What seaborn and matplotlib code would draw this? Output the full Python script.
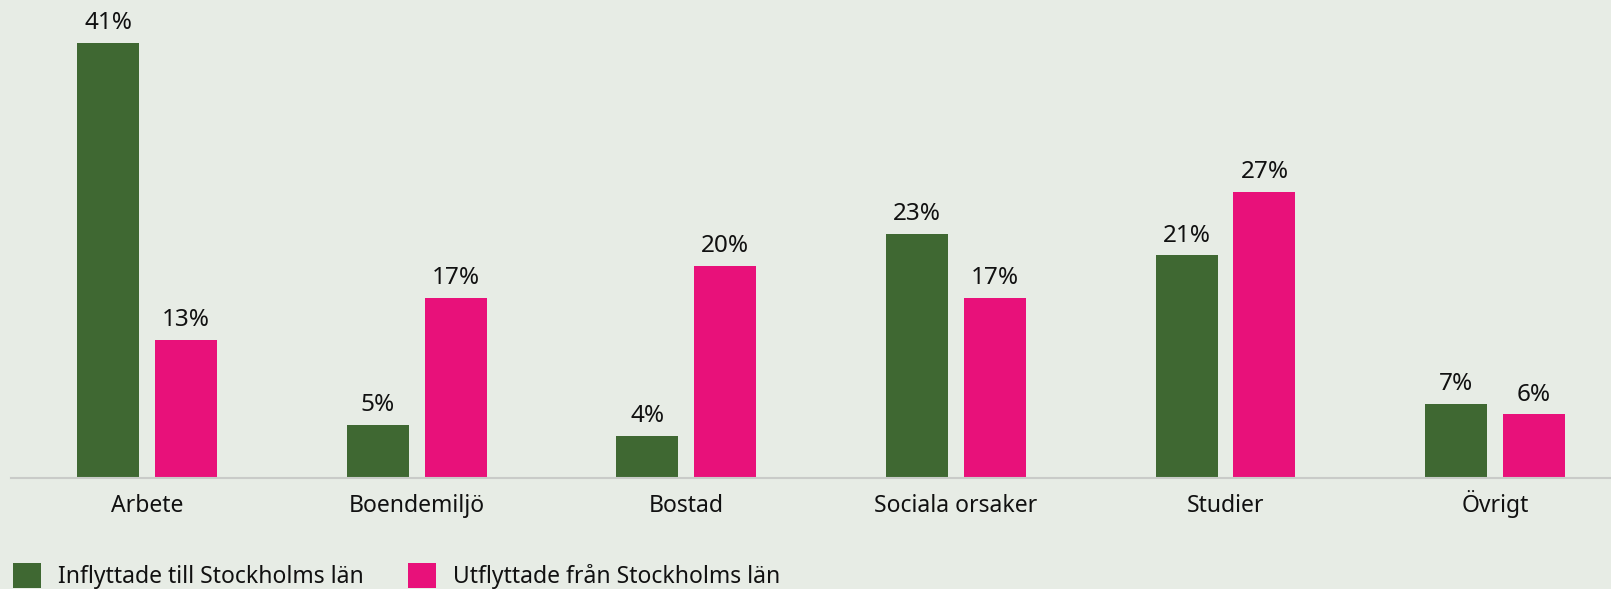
import matplotlib
matplotlib.use("Agg")
import matplotlib.pyplot as plt
from matplotlib.patches import Patch
import seaborn as sns
import pandas as pd

categories = ["Arbete", "Boendemiljö", "Bostad", "Sociala orsaker", "Studier", "Övrigt"]
series_names = ["Inflyttade till Stockholms län", "Utflyttade från Stockholms län"]
inflyttade = [41, 5, 4, 23, 21, 7]
utflyttade = [13, 17, 20, 17, 27, 6]
colors = ["#3f6832", "#e8117a"]
bg = "#e7ece5"

df = pd.DataFrame({
    "kategori": categories * 2,
    "serie": [series_names[0]] * len(categories) + [series_names[1]] * len(categories),
    "andel": inflyttade + utflyttade,
})

sns.set_theme(style="white")
plt.rcParams["font.family"] = ["Noto Sans", "DejaVu Sans"]

W, H = 1611, 589
fig = plt.figure(figsize=(W / 100, H / 100), dpi=100, facecolor=bg)
ax = fig.add_axes([11 / W, 1 - 478 / H, 1 - 11 / W, 478 / H])
ax.set_facecolor(bg)

sns.barplot(data=df, x="kategori", y="andel", hue="serie", order=categories,
            hue_order=series_names, palette=colors, saturation=1,
            width=0.578, gap=0.205, dodge=True, legend=False, ax=ax,
            edgecolor="none", linewidth=0)

for cont in ax.containers:
    ax.bar_label(cont, labels=[f"{int(v)}%" for v in cont.datavalues],
                 padding=5.5, fontsize=17.5, color="#111111")

ax.set_xlim(-0.505, 5.43)
ax.set_ylim(0, 45.05)
ax.set_xlabel("")
ax.set_ylabel("")
ax.set_yticks([])
ax.tick_params(axis="x", length=0, pad=24.5, labelsize=16.5, labelcolor="#111111")
for lbl in ax.get_xticklabels():
    lbl.set_verticalalignment("baseline")
for s in ["top", "right", "left"]:
    ax.spines[s].set_visible(False)
ax.spines["bottom"].set_color("#c9cbc8")
ax.spines["bottom"].set_linewidth(1.5)

fs = 16.5
for i, (name, col, x0) in enumerate(zip(series_names, colors, [13, 408])):
    leg = fig.legend(handles=[Patch(facecolor=col, edgecolor="none")], labels=[name],
                     loc="lower left", bbox_to_anchor=(x0 / W, 1 - 589 / H),
                     frameon=False, fontsize=fs, handlelength=1.24, handleheight=1.3,
                     handletextpad=0.72, borderpad=0, borderaxespad=0)
    for t in leg.get_texts():
        t.set_color("#111111")

fig.savefig("out.png", dpi=100, facecolor=bg)
